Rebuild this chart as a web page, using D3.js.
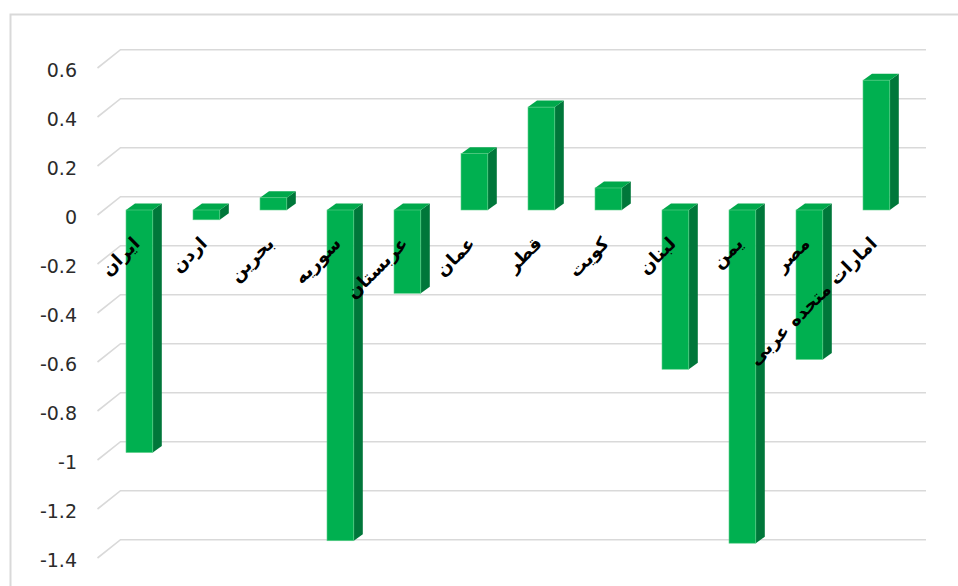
<!DOCTYPE html>
<html>
<head>
<meta charset="utf-8">
<script src="https://cdn.jsdelivr.net/npm/d3@7"></script>
<style>
  html, body { margin: 0; padding: 0; background: #ffffff; }
  svg { display: block; }
</style>
</head>
<body>
<svg id="chart" width="958" height="586"></svg>
<script>
// ---- data ----
const categories = ["ایران", "اردن", "بحرین", "سوریه", "عربستان", "عمان", "قطر", "کویت", "لبنان", "یمن", "مصر", "امارات متحده عربی"];
const values = [-0.99, -0.04, 0.05, -1.35, -0.34, 0.23, 0.42, 0.09, -0.65, -1.36, -0.61, 0.53];
const tickValues = [0.6, 0.4, 0.2, 0, -0.2, -0.4, -0.6, -0.8, -1, -1.2, -1.4];
const tickLabels = ["0.6", "0.4", "0.2", "0", "-0.2", "-0.4", "-0.6", "-0.8", "-1", "-1.2", "-1.4"];

// ---- layout ----
const svg = d3.select("#chart");
const W = 958, H = 586;

// front plane of the columns
const y = d3.scaleLinear().domain([-1.4, 0.6]).range([553, 63]);
const x = d3.scaleBand().domain(categories)
  .range([105.9, 909.9]).paddingInner(0.6).paddingOuter(0.3);

// 3D offsets
const wallDY = -13.3;
const floorDX = -23, floorDY = 18.3;
const wallX0 = 120.5, wallX1 = 926;
const depthDX = 9, depthDY = 6.5;

// chart border
svg.append("path")
  .attr("d", `M10.5,${H + 5} L10.5,14.5 L${W + 5},14.5`)
  .attr("fill", "none").attr("stroke", "#d9d9d9").attr("stroke-width", 2);

// gridlines
const grid = svg.append("g");
tickValues.forEach(v => {
  const yb = y(v) + wallDY;
  grid.append("path")
    .attr("d", `M${wallX0 + floorDX},${yb + floorDY} L${wallX0},${yb} L${wallX1},${yb}`)
    .attr("fill", "none").attr("stroke", "#d9d9d9").attr("stroke-width", 1.6);
});

// value axis labels
const axisG = svg.append("g");
tickValues.forEach((v, i) => {
  axisG.append("text")
    .attr("x", 77)
    .attr("y", y(v) + wallDY + 20)
    .attr("text-anchor", "end")
    .attr("dominant-baseline", "central")
    .attr("font-family", "DejaVu Sans, sans-serif")
    .attr("font-size", 19)
    .attr("fill", "#2b2b2b")
    .text(tickLabels[i]);
});

// columns
const bars = svg.append("g");
categories.forEach((c, i) => {
  const v = values[i];
  const x0 = x(c), w = x.bandwidth();
  const yT = y(Math.max(v, 0)), yB = y(Math.min(v, 0));
  const g = bars.append("g");
  g.append("path")
    .attr("d", `M${x0 + w},${yT} L${x0 + w + depthDX},${yT - depthDY} L${x0 + w + depthDX},${yB - depthDY} L${x0 + w},${yB} Z`)
    .attr("fill", "#00773a");
  g.append("path")
    .attr("d", `M${x0},${yT} L${x0 + depthDX},${yT - depthDY} L${x0 + w + depthDX},${yT - depthDY} L${x0 + w},${yT} Z`)
    .attr("fill", "#00a84b");
  g.append("rect")
    .attr("x", x0).attr("y", yT)
    .attr("width", w).attr("height", Math.max(0.5, yB - yT))
    .attr("fill", "#00b050")
    .attr("stroke", "#5fd08a").attr("stroke-width", 0.6);
});

// category labels (rotated)
const labG = svg.append("g");
categories.forEach(c => {
  const cx = x(c) + x.bandwidth() / 2 - 3;
  const cy = 240;
  labG.append("text")
    .attr("transform", `translate(${cx},${cy}) rotate(-45)`)
    .attr("text-anchor", "end")
    .attr("direction", "ltr")
    .attr("dominant-baseline", "central")
    .attr("font-family", "DejaVu Sans, sans-serif")
    .attr("font-weight", "bold")
    .attr("font-size", 18)
    .attr("fill", "#000000")
    .text(c);
});
</script>
</body>
</html>
